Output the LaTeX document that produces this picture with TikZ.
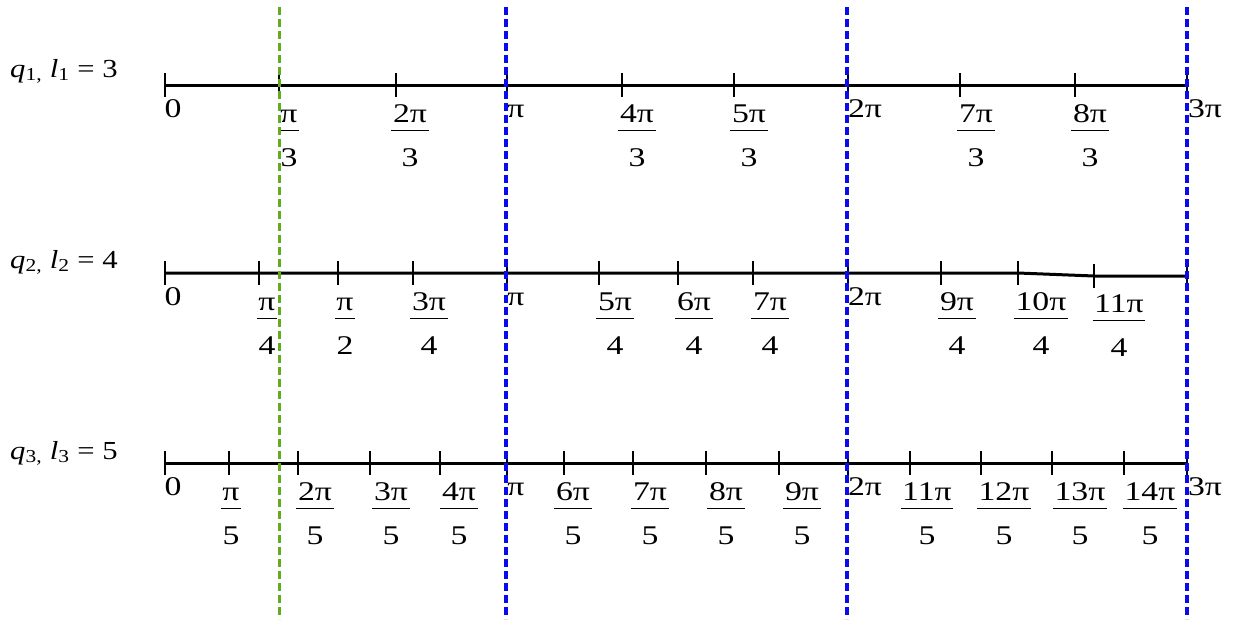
\documentclass[tikz,border=0pt]{standalone}
\usepackage{fontspec}
\setmainfont{Liberation Serif}
\definecolor{gline}{RGB}{96,172,28}
\definecolor{bline}{RGB}{10,10,240}
\tikzset{
 axisline/.style={line width=3pt},
 tickmark/.style={line width=2.2pt},
 guide/.style={line width=3.8pt, dash pattern=on 8pt off 4pt},
 lbl/.style={inner sep=0pt, anchor=base, font=\fontsize{27}{32}\selectfont},
 numlbl/.style={lbl, inner xsep=1.5pt},
 fracbar/.style={line width=1.6pt},
 rowlbl/.style={inner sep=0pt, anchor=base west, font=\fontsize{26}{30}\selectfont},
}
\newcommand{\sx}[1]{\scalebox{1.25}[1]{#1}}
\newcommand{\sr}[1]{\scalebox{1.18}[1]{#1}}
% name, x, line y, numerator, denominator
\newcommand{\myfrac}[5]{%
 \node[numlbl] (#1n) at (#2,#3+37) {\sx{#4}};
 \node[lbl] (#1d) at (#2,#3+81) {\sx{#5}};
 \draw[fracbar] ([yshift=-8.5pt]#1n.base west) -- ([yshift=-8.5pt]#1n.base east);
}
\newcommand{\mylab}[4]{%
 \node[lbl] (#1) at (#2,#3+32) {\sx{#4}};
}
\begin{document}
\begin{tikzpicture}[x=1pt,y=-1pt]
\useasboundingbox (0,0) rectangle (1233,619);
% row labels
\node[rowlbl] (r1) at (10,77) {\sr{\textit{q}\textsubscript{1,} \textit{l}\textsubscript{1} = 3}};
\node[rowlbl] (r2) at (10,268) {\sr{\textit{q}\textsubscript{2,} \textit{l}\textsubscript{2} = 4}};
\node[rowlbl] (r3) at (10,459) {\sr{\textit{q}\textsubscript{3,} \textit{l}\textsubscript{3} = 5}};
% axes
\coordinate (a1s) at (165,85); \coordinate (a1e) at (1187,85);
\draw[axisline] (a1s) -- (a1e);
\coordinate (a2s) at (165,273); \coordinate (a2k1) at (1018,273); \coordinate (a2k2) at (1094,276); \coordinate (a2e) at (1187,276);
\draw[axisline] (a2s) -- (a2k1) -- (a2k2) -- (a2e);
\coordinate (a3s) at (165,463); \coordinate (a3e) at (1187,463);
\draw[axisline] (a3s) -- (a3e);
% ticks
\foreach \x in {165,279,396,507,622,734,848,960,1075,1187} \draw[tickmark] (\x,73) -- (\x,97);
\foreach \x in {165,259,338,413,507,599,678,753,848,941,1018} \draw[tickmark] (\x,261) -- (\x,285);
\foreach \x in {1094,1187} \draw[tickmark] (\x,264) -- (\x,288);
\foreach \x in {165,229,298,370,440,507,564,633,706,779,848,910,981,1052,1124,1187} \draw[tickmark] (\x,451) -- (\x,475);
% row 1 labels
\mylab{l1a}{173}{85}{0}
\myfrac{l1b}{289}{85}{π}{3}
\myfrac{l1c}{410}{85}{2π}{3}
\mylab{l1d}{516}{85}{π}
\myfrac{l1e}{637}{85}{4π}{3}
\myfrac{l1f}{749}{85}{5π}{3}
\mylab{l1g}{865}{85}{2π}
\myfrac{l1h}{976}{85}{7π}{3}
\myfrac{l1i}{1090}{85}{8π}{3}
\mylab{l1j}{1205}{85}{3π}
% row 2 labels
\mylab{l2a}{173}{273}{0}
\myfrac{l2b}{267}{273}{π}{4}
\myfrac{l2c}{345}{273}{π}{2}
\myfrac{l2d}{429}{273}{3π}{4}
\mylab{l2e}{516}{273}{π}
\myfrac{l2f}{615}{273}{5π}{4}
\myfrac{l2g}{694}{273}{6π}{4}
\myfrac{l2h}{770}{273}{7π}{4}
\mylab{l2i}{865}{273}{2π}
\myfrac{l2j}{957}{273}{9π}{4}
\myfrac{l2k}{1041}{273}{10π}{4}
\myfrac{l2l}{1119}{275}{11π}{4}
% row 3 labels
\mylab{l3a}{173}{463}{0}
\myfrac{l3b}{231}{463}{π}{5}
\myfrac{l3c}{315}{463}{2π}{5}
\myfrac{l3d}{391}{463}{3π}{5}
\myfrac{l3e}{459}{463}{4π}{5}
\mylab{l3f}{516}{463}{π}
\myfrac{l3g}{573}{463}{6π}{5}
\myfrac{l3h}{650}{463}{7π}{5}
\myfrac{l3i}{726}{463}{8π}{5}
\myfrac{l3j}{802}{463}{9π}{5}
\mylab{l3k}{865}{463}{2π}
\myfrac{l3l}{927}{463}{11π}{5}
\myfrac{l3m}{1004}{463}{12π}{5}
\myfrac{l3n}{1080}{463}{13π}{5}
\myfrac{l3o}{1150}{463}{14π}{5}
\mylab{l3p}{1205}{463}{3π}
% guide lines
\coordinate (g1t) at (279.5,7); \coordinate (g1b) at (279.5,619);
\coordinate (g2t) at (506,7); \coordinate (g2b) at (506,619);
\coordinate (g3t) at (847,7); \coordinate (g3b) at (847,619);
\coordinate (g4t) at (1187,7); \coordinate (g4b) at (1187,619);
\draw[guide, gline] (g1t) -- (g1b);
\draw[guide, bline] (g2t) -- (g2b);
\draw[guide, bline] (g3t) -- (g3b);
\draw[guide, bline] (g4t) -- (g4b);
\end{tikzpicture}
\end{document}
